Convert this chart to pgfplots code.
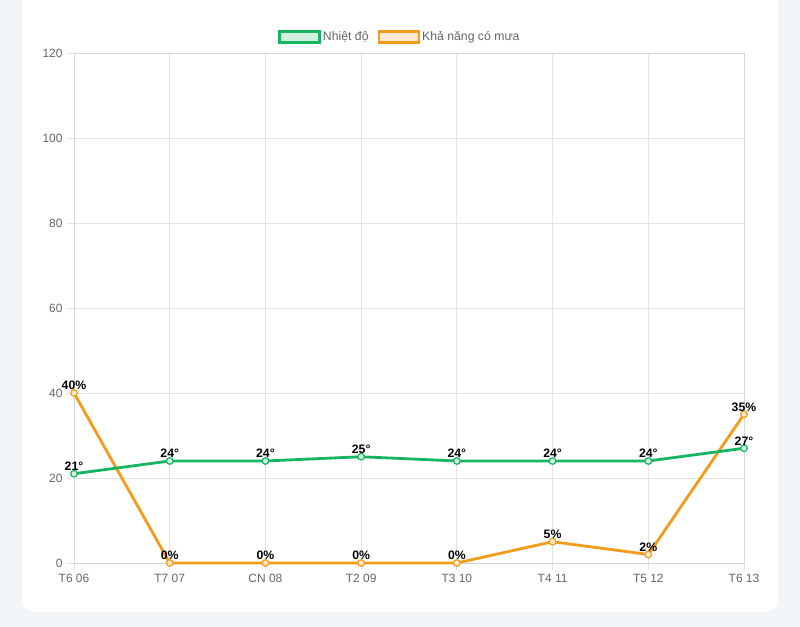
\documentclass[border=0pt]{standalone}
\usepackage{pgfplots}
\pgfplotsset{compat=1.18}
\usepackage{fontspec}
\setmainfont{Liberation Sans}
\definecolor{bgc}{HTML}{F2F6F8}
\definecolor{gridc}{HTML}{E3E3E3}
\definecolor{axc}{HTML}{D6D6D6}
\definecolor{tickc}{HTML}{666666}
\definecolor{grn}{HTML}{17B561}
\definecolor{grnl}{HTML}{D1F0E0}
\definecolor{org}{HTML}{F39B1A}
\definecolor{orgl}{HTML}{FDEBD1}
\begin{document}
\begin{tikzpicture}[x=1bp,y=1bp]
\useasboundingbox (0,0) rectangle (800,627);
\fill[bgc] (0,0) rectangle (800,627);
\begin{scope}
\clip (0,0) rectangle (800,627);
\fill[white, rounded corners=12bp] (22,15) rectangle (778,660);
\end{scope}
\begin{axis}[
  at={(74bp,64bp)}, anchor=south west,
  width=670bp, height=510bp, scale only axis,
  xmin=0, xmax=7, ymin=0, ymax=120,
  xtick={0,...,7},
  xticklabels={T6 06,T7 07,CN 08,T2 09,T3 10,T4 11,T5 12,T6 13},
  ytick={0,20,...,120},
  xtick pos=bottom, ytick pos=left,
  grid=major,
  major grid style={gridc, line width=0.8bp},
  axis line style={axc, line width=0.8bp},
  tick align=outside, major tick length=7bp,
  major tick style={gridc, line width=0.8bp},
  /pgf/number format/assume math mode=true,
  tick label style={font=\fontsize{12}{14}\selectfont, text=tickc},
  xticklabel style={yshift=-1bp},
  yticklabel style={xshift=-1bp},
  clip=false,
  legend style={draw=none, fill=none, at={(0.4866,1.031)}, anchor=center,
    legend columns=2, font=\fontsize{12.3}{14}\selectfont, text=tickc,
    /tikz/every even column/.append style={column sep=7bp}},
  legend image code/.code={\draw[#1, line width=2.5bp] (0bp,-5.5bp) rectangle (40bp,5.5bp);},
  nodes near coords, point meta=explicit symbolic,
  every node near coord/.append style={font=\bfseries\fontsize{12.3}{14}\selectfont, text=black, yshift=0.5bp, inner sep=2bp},
]
\addplot[org, line width=2.8bp, mark=*, mark size=3.3bp, mark options={fill=orgl, draw=org, line width=1.2bp}, forget plot]
 coordinates {(0,40) [40\%] (1,0) [0\%] (2,0) [0\%] (3,0) [0\%] (4,0) [0\%] (5,5) [5\%] (6,2) [2\%] (7,35) [35\%]};
\addplot[grn, line width=2.8bp, mark=*, mark size=3.3bp, mark options={fill=grnl, draw=grn, line width=1.2bp}, forget plot]
 coordinates {(0,21) [21°] (1,24) [24°] (2,24) [24°] (3,25) [25°] (4,24) [24°] (5,24) [24°] (6,24) [24°] (7,27) [27°]};
\addlegendimage{draw=grn, fill=grnl}
\addlegendentry{Nhiệt độ}
\addlegendimage{draw=org, fill=orgl}
\addlegendentry{Khả năng có mưa}
\end{axis}
\end{tikzpicture}
\end{document}
